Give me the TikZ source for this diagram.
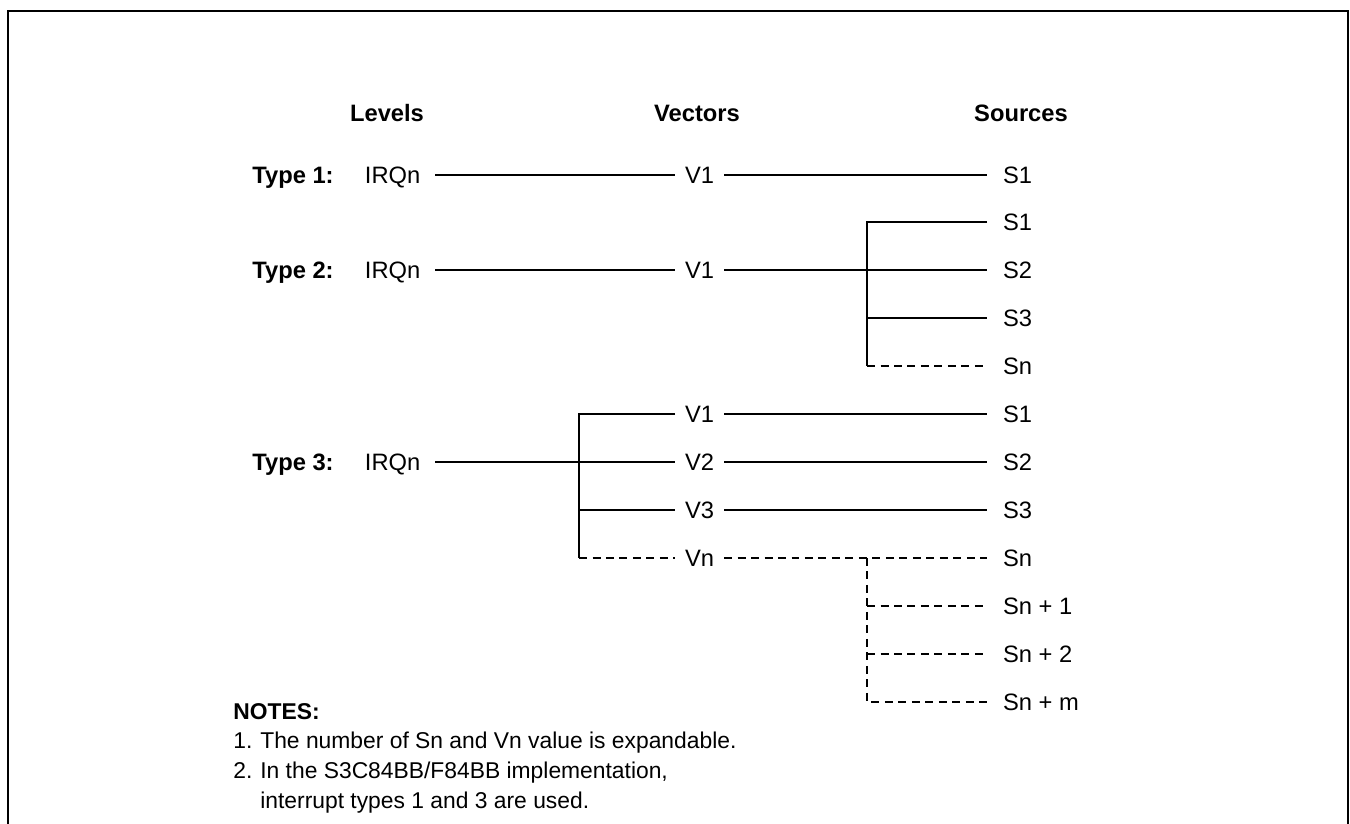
\documentclass[tikz,border=0pt]{standalone}
\usepackage{fontspec}
\setmainfont{Liberation Sans}
\usetikzlibrary{positioning}

\begin{document}
\begin{tikzpicture}[
        x=0.02cm,
        y=-0.02cm,
        lbl/.style={font=\fontsize{13.5}{17}\selectfont, inner sep=0pt, text height=0.34cm, text depth=0pt},
        head/.style={lbl, font=\fontsize{13.5}{17}\selectfont\bfseries},
        typ/.style={head, anchor=west},
        lvl/.style={lbl, anchor=west, outer xsep=0.3cm, outer ysep=0pt},
        vec/.style={lbl, anchor=west, outer xsep=0.2cm, outer ysep=0pt},
        src/.style={lbl, anchor=west, outer xsep=0.32cm, outer ysep=0pt},
        link/.style={line width=1pt},
        dlink/.style={line width=1pt, dash pattern=on 0.16cm off 0.11cm},
        frame/.style={line width=1.2pt}
    ]
        \useasboundingbox (0,0) rectangle (1350,824);
        \draw[frame] (8,830) -- (8,11) -- (1348,11) -- (1348,830);

        % === EN-TETES ===
        \node[head] (levels) at (387,113) {Levels};
        \node[head] (vectors) at (697,113) {Vectors};
        \node[head] (sources) at (1021,113) {Sources};

        % === TYPE 1 ===
        \node[typ] (T1) at (252,175) {Type 1:};
        \node[lvl] (I1) at (350,175) {IRQn};
        \node[vec] (V1a) at (675,175) {V1};
        \node[src] (S1a) at (987,175) {S1};
        \draw[link] (I1) -- (V1a);
        \draw[link] (V1a) -- (S1a);

        % === TYPE 2 ===
        \node[typ] (T2) at (252,270) {Type 2:};
        \node[lvl] (I2) at (350,270) {IRQn};
        \node[vec] (V1b) at (675,270) {V1};
        \node[src] (S1b) at (987,222) {S1};
        \node[src] (S2b) at (987,270) {S2};
        \node[src] (S3b) at (987,318) {S3};
        \node[src] (Snb) at (987,366) {Sn};
        \coordinate (j2) at (867,270);
        \coordinate (c2) at (867,366);
        \draw[link] (I2) -- (V1b);
        \draw[link] (V1b) -- (S2b);
        \draw[link] (S1b) -| (c2);
        \draw[link] (j2) |- (S3b);
        \draw[dlink] (c2) -- (Snb);

        % === TYPE 3 ===
        \node[typ] (T3) at (252,462) {Type 3:};
        \node[lvl] (I3) at (350,462) {IRQn};
        \node[vec] (V31) at (675,414) {V1};
        \node[vec] (V32) at (675,462) {V2};
        \node[vec] (V33) at (675,510) {V3};
        \node[vec] (V3n) at (675,558) {Vn};
        \node[src] (S31) at (987,414) {S1};
        \node[src] (S32) at (987,462) {S2};
        \node[src] (S33) at (987,510) {S3};
        \node[src] (S3n) at (987,558) {Sn};
        \node[src] (Sn1) at (987,606) {Sn + 1};
        \node[src] (Sn2) at (987,654) {Sn + 2};
        \node[src] (Snm) at (987,702) {Sn + m};
        \coordinate (j3) at (579,462);
        \coordinate (c3) at (579,558);
        \coordinate (j4) at (867,558);
        \draw[link] (I3) -- (V32);
        \draw[link] (V31) -| (c3);
        \draw[link] (j3) |- (V33);
        \draw[dlink] (c3) -- (V3n);
        \draw[link] (V31) -- (S31);
        \draw[link] (V32) -- (S32);
        \draw[link] (V33) -- (S33);
        \draw[dlink] (V3n) -- (S3n);
        \draw[dlink] (j4) |- (Snm);
        \draw[dlink] (Sn1 -| j4) -- (Sn1);
        \draw[dlink] (Sn2 -| j4) -- (Sn2);

        % === NOTES ===
        \node[anchor=base west, inner sep=0pt, font=\fontsize{13}{17}\selectfont] (notes) at (233,719) {%
            \begin{tabular}[t]{@{}p{0.54cm}@{}l@{}}
                \multicolumn{2}{@{}l@{}}{\textbf{NOTES:}}\\
                1. & The number of Sn and Vn value is expandable.\\
                2. & In the S3C84BB/F84BB implementation,\\
                   & interrupt types 1 and 3 are used.
            \end{tabular}};
    \end{tikzpicture}
\end{document}
